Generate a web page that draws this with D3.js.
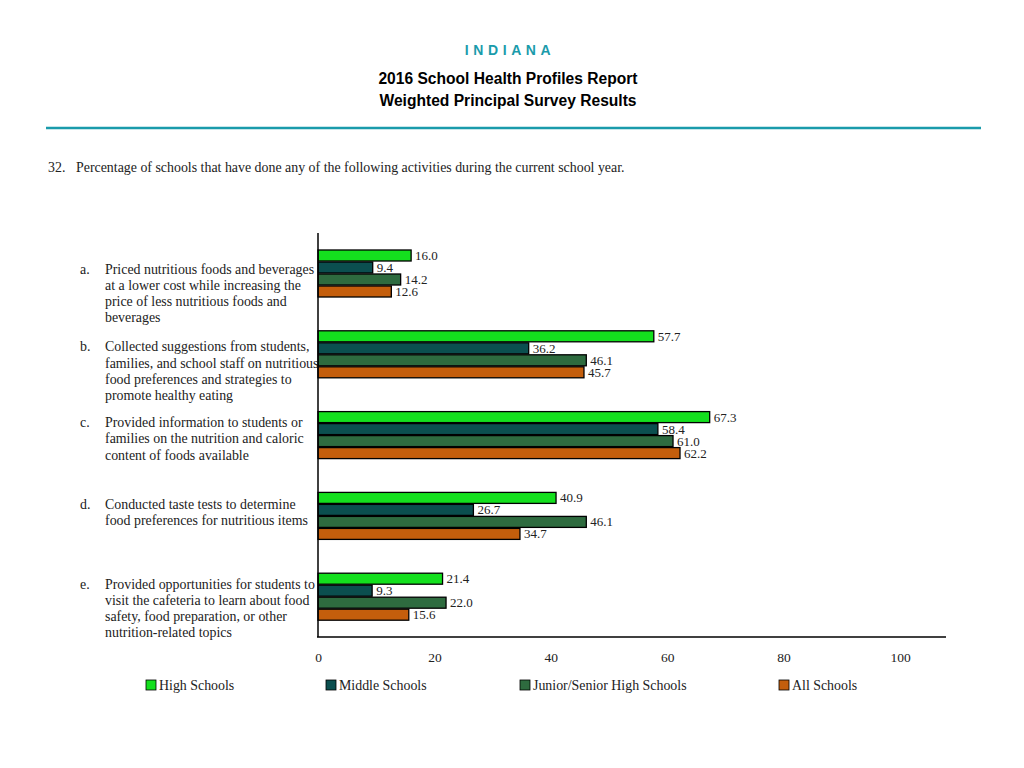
<!DOCTYPE html>
<html><head><meta charset="utf-8">
<script src="https://cdn.jsdelivr.net/npm/d3@7"></script>
<style>body{margin:0;background:#fff}</style>
</head><body>
<svg id="c" width="1024" height="768"></svg>
<script>
const categories = ["a","b","c","d","e"];
const categoryLabels = [
  ["Priced nutritious foods and beverages","at a lower cost while increasing the","price of less nutritious foods and","beverages"],
  ["Collected suggestions from students,","families, and school staff on nutritious","food preferences and strategies to","promote healthy eating"],
  ["Provided information to students or","families on the nutrition and caloric","content of foods available"],
  ["Conducted taste tests to determine","food preferences for nutritious items"],
  ["Provided opportunities for students to","visit the cafeteria to learn about food","safety, food preparation, or other","nutrition-related topics"]
];
const seriesNames = ["High Schools","Middle Schools","Junior/Senior High Schools","All Schools"];
const highSchools = [16.0, 57.7, 67.3, 40.9, 21.4];
const middleSchools = [9.4, 36.2, 58.4, 26.7, 9.3];
const juniorSenior = [14.2, 46.1, 61.0, 46.1, 22.0];
const allSchools = [12.6, 45.7, 62.2, 34.7, 15.6];
const xTicks = [0, 20, 40, 60, 80, 100];
const colors = ["#14e01e", "#0b4f4f", "#2e6b3f", "#c45e0c"];
const labelNudge = [19, 16, 11, 12, 11];

const seriesValues = [highSchools, middleSchools, juniorSenior, allSchools];
const svg = d3.select("#c");
const serif = "'Liberation Serif', 'DejaVu Serif', serif";
const sans = "'Liberation Sans', Arial, sans-serif";

// Header
svg.append("text").attr("x", 510).attr("y", 55).attr("text-anchor", "middle")
  .attr("font-family", sans).attr("font-weight", "bold").attr("font-size", 14)
  .attr("letter-spacing", 4.6).attr("fill", "#1a9bab").text("INDIANA");
svg.append("text").attr("x", 508).attr("y", 84).attr("text-anchor", "middle")
  .attr("font-family", sans).attr("font-weight", "bold").attr("font-size", 15.6)
  .attr("fill", "#000").text("2016 School Health Profiles Report");
svg.append("text").attr("x", 508).attr("y", 106).attr("text-anchor", "middle")
  .attr("font-family", sans).attr("font-weight", "bold").attr("font-size", 15.6)
  .attr("fill", "#000").text("Weighted Principal Survey Results");
svg.append("line").attr("x1", 46).attr("x2", 981).attr("y1", 128).attr("y2", 128)
  .attr("stroke", "#1a9bab").attr("stroke-width", 2.5);

svg.append("text").attr("x", 48).attr("y", 172).attr("font-family", serif)
  .attr("font-size", 13.9).attr("fill", "#222").text("32.");
svg.append("text").attr("x", 76).attr("y", 172).attr("font-family", serif)
  .attr("font-size", 13.9).attr("fill", "#222")
  .text("Percentage of schools that have done any of the following activities during the current school year.");

// Scales
const x = d3.scaleLinear().domain([0, 100]).range([318, 900]);
const y0 = d3.scaleBand().domain(categories).range([233, 637]);
const y1 = d3.scaleBand().domain(seriesNames).range([17, 65]);

const g = svg.append("g");
categories.forEach((cat, ci) => {
  const gy = y0(cat);
  seriesNames.forEach((s, si) => {
    const v = seriesValues[si][ci];
    const by = gy + y1(s);
    const bh = y1.bandwidth() - 1;
    g.append("rect").attr("x", x(0)).attr("y", by).attr("width", x(v) - x(0)).attr("height", bh)
      .attr("fill", colors[si]).attr("stroke", "#000").attr("stroke-width", 1.3);
    const lbl = v.toFixed(1);
    const tx = x(v) + 3;
    const t = g.append("text").attr("x", tx + 1).attr("y", by + bh / 2 + 4.5)
      .attr("font-family", serif).attr("font-size", 13).attr("fill", "#222").text(lbl);
    const bb = t.node().getBBox();
    g.insert("rect", () => t.node()).attr("x", tx).attr("y", by + 1).attr("width", bb.width + 2)
      .attr("height", bh - 1).attr("fill", "#fff");
  });
  // category label
  const lines = categoryLabels[ci];
  const top = gy + 17 + labelNudge[ci];
  svg.append("text").attr("x", 80).attr("y", top + 4.5).attr("font-family", serif)
    .attr("font-size", 13.9).attr("fill", "#222").text(cat + ".");
  lines.forEach((ln, li) => {
    svg.append("text").attr("x", 105).attr("y", top + 4.5 + li * 16.2).attr("font-family", serif)
      .attr("font-size", 13.9).attr("fill", "#222").text(ln);
  });
});

// Axes
svg.append("line").attr("x1", 318).attr("x2", 318).attr("y1", 233).attr("y2", 637)
  .attr("stroke", "#000").attr("stroke-width", 1.5);
svg.append("line").attr("x1", 317).attr("x2", 946).attr("y1", 637).attr("y2", 637)
  .attr("stroke", "#000").attr("stroke-width", 1.5);
const xa = svg.append("g").attr("transform", "translate(0,637)")
  .call(d3.axisBottom(x).tickValues(xTicks).tickSize(0).tickPadding(15).tickFormat(d3.format("d")));
xa.select(".domain").remove();
xa.selectAll("text").attr("font-family", serif).attr("font-size", 13.5).attr("fill", "#222");

// Legend
const legendX = [146, 326, 520, 779];
seriesNames.forEach((s, i) => {
  svg.append("rect").attr("x", legendX[i]).attr("y", 680).attr("width", 10).attr("height", 10)
    .attr("fill", colors[i]).attr("stroke", "#000").attr("stroke-width", 0.8);
  svg.append("text").attr("x", legendX[i] + 13).attr("y", 690).attr("font-family", serif)
    .attr("font-size", 13.9).attr("fill", "#222").text(s);
});
</script>
</body></html>
